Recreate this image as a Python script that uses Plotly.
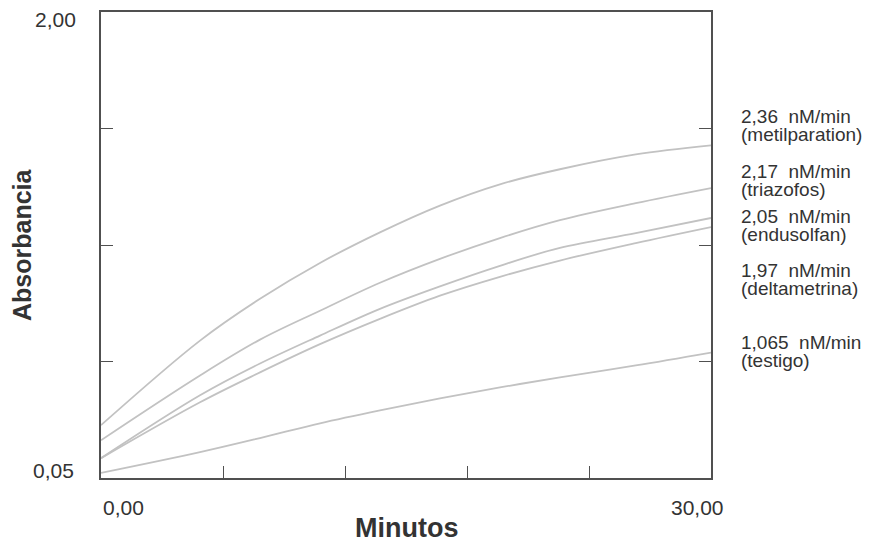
import plotly.graph_objects as go

minutos = [0, 4.87, 7.82, 10.77, 13.72, 16.67, 19.62, 22.57, 26.3, 30]
metilparation = [0.271, 0.625, 0.800, 0.950, 1.078, 1.190, 1.279, 1.342, 1.404, 1.442]
triazofos = [0.208, 0.479, 0.629, 0.750, 0.867, 0.967, 1.054, 1.129, 1.200, 1.263]
endusolfan = [0.133, 0.396, 0.529, 0.646, 0.758, 0.852, 0.938, 1.013, 1.075, 1.138]
deltametrina = [0.133, 0.367, 0.492, 0.610, 0.716, 0.813, 0.892, 0.960, 1.033, 1.100]
testigo = [0.071, 0.158, 0.217, 0.279, 0.333, 0.383, 0.429, 0.471, 0.521, 0.575]

series = [metilparation, triazofos, endusolfan, deltametrina, testigo]
rates = ["2,36  nM/min", "2,17  nM/min", "2,05  nM/min", "1,97  nM/min", "1,065  nM/min"]
names = ["(metilparation)", "(triazofos)", "(endusolfan)", "(deltametrina)", "(testigo)"]
label_y = [1.525, 1.296, 1.108, 0.879, 0.579]

x_ticks = [0, 6, 12, 18, 24, 30]
y_ticks = [0.05, 0.5375, 1.025, 1.5125, 2.00]

FONT = "Liberation Sans, Arial, Helvetica, sans-serif"
AX = "#505050"
TXT = "#333333"

fig = go.Figure()
for s, n in zip(series, names):
    fig.add_trace(go.Scatter(x=minutos, y=s, mode="lines", name=n,
                             line=dict(color="#c2c2c2", width=1.8, shape="spline", smoothing=1.0),
                             showlegend=False, hoverinfo="skip"))

ann = []
for r, n, yy in zip(rates, names, label_y):
    ann.append(dict(x=1, xref="paper", y=yy, yref="y", xshift=28, yshift=9,
                    text=r, showarrow=False, xanchor="left", yanchor="middle",
                    font=dict(family=FONT, size=19, color=TXT)))
    ann.append(dict(x=1, xref="paper", y=yy, yref="y", xshift=28, yshift=-9,
                    text=n, showarrow=False, xanchor="left", yanchor="middle",
                    font=dict(family=FONT, size=19, color=TXT)))

ann.append(dict(x=0, xref="paper", y=2.00, yref="y", xshift=-23, yshift=-7,
                text="2,00", showarrow=False, xanchor="right", yanchor="middle",
                font=dict(family=FONT, size=21, color=TXT)))
ann.append(dict(x=0, xref="paper", y=0.05, yref="y", xshift=-25, yshift=8,
                text="0,05", showarrow=False, xanchor="right", yanchor="middle",
                font=dict(family=FONT, size=21, color=TXT)))
ann.append(dict(x=0, xref="x", y=0, yref="paper", xshift=0, yshift=-29,
                text="0,00", showarrow=False, xanchor="left", yanchor="middle",
                font=dict(family=FONT, size=21, color=TXT)))
ann.append(dict(x=30, xref="x", y=0, yref="paper", xshift=-14, yshift=-29,
                text="30,00", showarrow=False, xanchor="center", yanchor="middle",
                font=dict(family=FONT, size=21, color=TXT)))
ann.append(dict(x=0.5, xref="paper", y=0, yref="paper", yshift=-50,
                text="<b>Minutos</b>", showarrow=False, xanchor="center", yanchor="middle",
                font=dict(family=FONT, size=27, color=TXT)))
ann.append(dict(x=0, xref="paper", y=0.5, yref="paper", xshift=-79,
                text="<b>Absorbancia</b>", showarrow=False, xanchor="center", yanchor="middle",
                textangle=-90, font=dict(family=FONT, size=25, color=TXT)))

fig.update_layout(
    width=873, height=545,
    margin=dict(l=93, r=170, t=2, b=75),
    paper_bgcolor="white", plot_bgcolor="white",
    annotations=ann,
    xaxis=dict(range=[0, 30], tickvals=x_ticks, ticktext=[""] * len(x_ticks),
               ticks="inside", ticklen=12, tickcolor=AX, tickwidth=1,
               showline=True, linecolor=AX, linewidth=1.5, mirror=True,
               showgrid=False, zeroline=False),
    yaxis=dict(range=[0.05, 2.00], tickvals=y_ticks, ticktext=[""] * len(y_ticks),
               ticks="inside", ticklen=12, tickcolor=AX, tickwidth=1,
               showline=True, linecolor=AX, linewidth=1.5, mirror="ticks",
               showgrid=False, zeroline=False),
)

fig.write_html("out.html")
